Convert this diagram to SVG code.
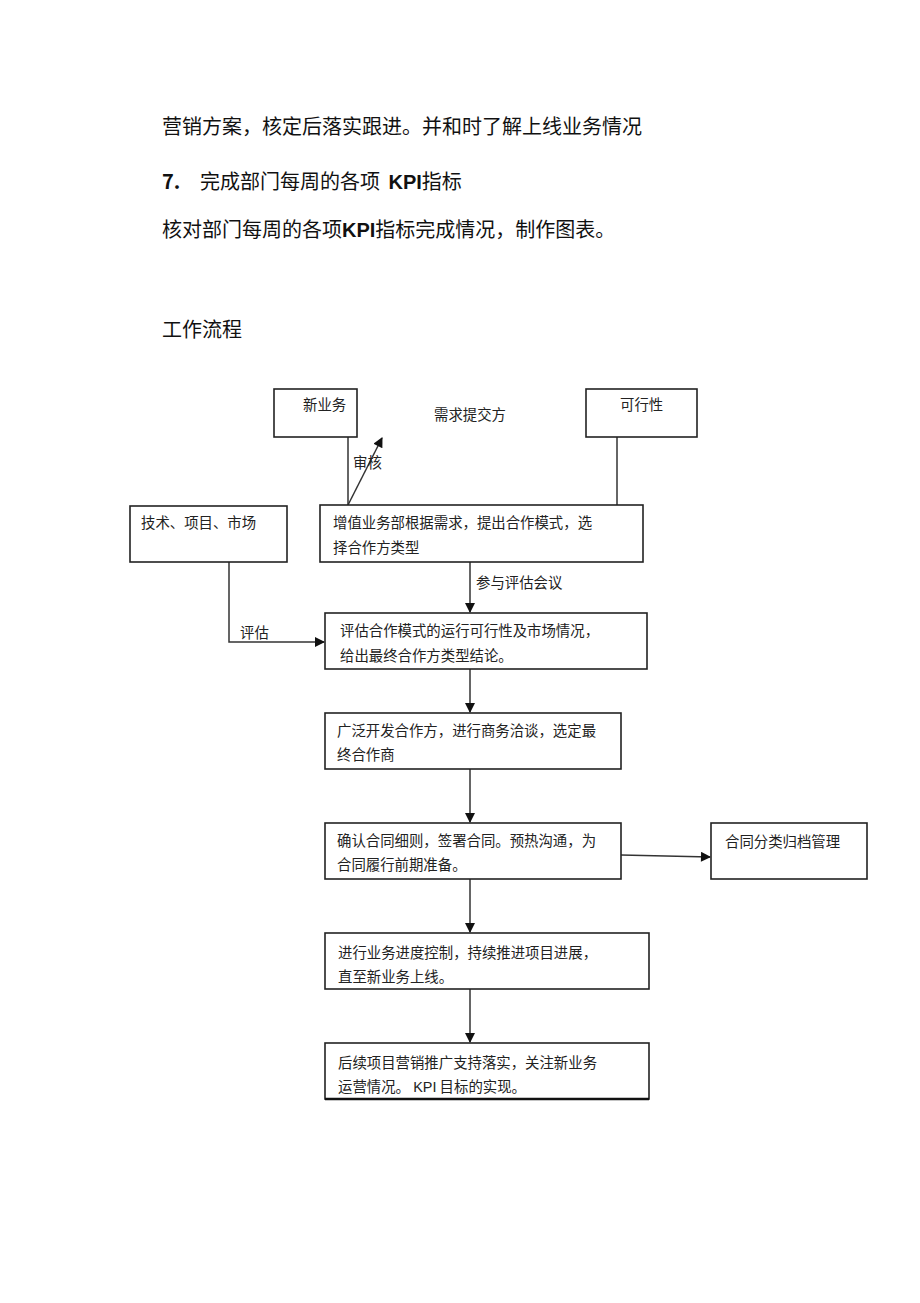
<svg xmlns="http://www.w3.org/2000/svg" width="920" height="1303" viewBox="0 0 920 1303">
<defs>
<style>
.h{font-family:"Noto Sans CJK SC","Liberation Sans",sans-serif;font-size:20px;fill:#111}
.t{font-family:"Noto Sans CJK SC","Liberation Serif",serif;font-size:14.4px;fill:#222}
.box{fill:#fff;stroke:#222;stroke-width:1.6}
.ln{fill:none;stroke:#333;stroke-width:1.5}
</style>
<marker id="ar" viewBox="0 0 10 10" refX="9" refY="5" markerWidth="11" markerHeight="10" markerUnits="userSpaceOnUse" orient="auto">
<path d="M0,0 L10,5 L0,10 z" fill="#111"/>
</marker>
</defs>
<rect width="920" height="1303" fill="#fff"/>
<g id="header">
<text class="h" x="162" y="134">营销方案，核定后落实跟进。并和时了解上线业务情况</text>
<text class="h" x="162" y="189" font-weight="bold">7.</text>
<text class="h" x="200" y="189">完成部门每周的各项 <tspan font-family="Liberation Sans" font-weight="bold" dx="4">KPI</tspan>指标</text>
<text class="h" x="162" y="237">核对部门每周的各项<tspan font-family="Liberation Sans" font-weight="bold">KPI</tspan>指标完成情况，制作图表。</text>
<text class="h" x="162" y="337">工作流程</text>
</g>
<g id="connectors">
<path class="ln" d="M348,437 V505"/>
<path class="ln" d="M348,505 L382,438" marker-end="url(#ar)"/>
<text class="t" x="353" y="468">审核</text>
<path class="ln" d="M617,437 V505"/>
<path class="ln" d="M470,562 V612" marker-end="url(#ar)"/>
<text class="t" x="476" y="588">参与评估会议</text>
<path class="ln" d="M229,562 V642 H324" marker-end="url(#ar)"/>
<text class="t" x="240" y="638">评估</text>
<path class="ln" d="M470,669 V712" marker-end="url(#ar)"/>
<path class="ln" d="M470,769 V822" marker-end="url(#ar)"/>
<path class="ln" d="M621,855 L710,857" marker-end="url(#ar)"/>
<path class="ln" d="M470,879 V932" marker-end="url(#ar)"/>
<path class="ln" d="M470,989 V1042" marker-end="url(#ar)"/>
</g>
<g id="n-xinyewu">
<rect class="box" x="274" y="389" width="83" height="48"/>
<text class="t" x="303" y="410">新业务</text>
</g>
<g id="n-xuqiu">
<text class="t" x="434" y="420">需求提交方</text>
</g>
<g id="n-kexing">
<rect class="box" x="586" y="389" width="111" height="48"/>
<text class="t" x="620" y="410">可行性</text>
</g>
<g id="n-jishu">
<rect class="box" x="130" y="506" width="157" height="56"/>
<text class="t" x="141" y="528">技术、项目、市场</text>
</g>
<g id="n-zengzhi">
<rect class="box" x="320" y="505" width="323" height="57"/>
<text class="t" x="333" y="528">增值业务部根据需求，提出合作模式，选</text>
<text class="t" x="333" y="553">择合作方类型</text>
</g>
<g id="n-pinggu">
<rect class="box" x="325" y="613" width="322" height="56"/>
<text class="t" x="340" y="636">评估合作模式的运行可行性及市场情况，</text>
<text class="t" x="340" y="661">给出最终合作方类型结论。</text>
</g>
<g id="n-guangfan">
<rect class="box" x="325" y="713" width="296" height="56"/>
<text class="t" x="337" y="736">广泛开发合作方，进行商务洽谈，选定最</text>
<text class="t" x="337" y="760">终合作商</text>
</g>
<g id="n-queren">
<rect class="box" x="325" y="823" width="296" height="56"/>
<text class="t" x="337" y="846">确认合同细则，签署合同。预热沟通，为</text>
<text class="t" x="337" y="870">合同履行前期准备。</text>
</g>
<g id="n-hetong">
<rect class="box" x="711" y="823" width="156" height="56"/>
<text class="t" x="725" y="847">合同分类归档管理</text>
</g>
<g id="n-jinxing">
<rect class="box" x="325" y="933" width="324" height="56"/>
<text class="t" x="338" y="958">进行业务进度控制，持续推进项目进展，</text>
<text class="t" x="338" y="982">直至新业务上线。</text>
</g>
<g id="n-houxu">
<rect class="box" x="325" y="1043" width="324" height="56"/>
<path d="M325,1099 H649" stroke="#111" stroke-width="2.5"/>
<text class="t" x="338" y="1068">后续项目营销推广支持落实，关注新业务</text>
<text class="t" x="338" y="1092">运营情况。 <tspan font-family="Liberation Sans"> KPI</tspan> 目标的实现。</text>
</g>
</svg>
